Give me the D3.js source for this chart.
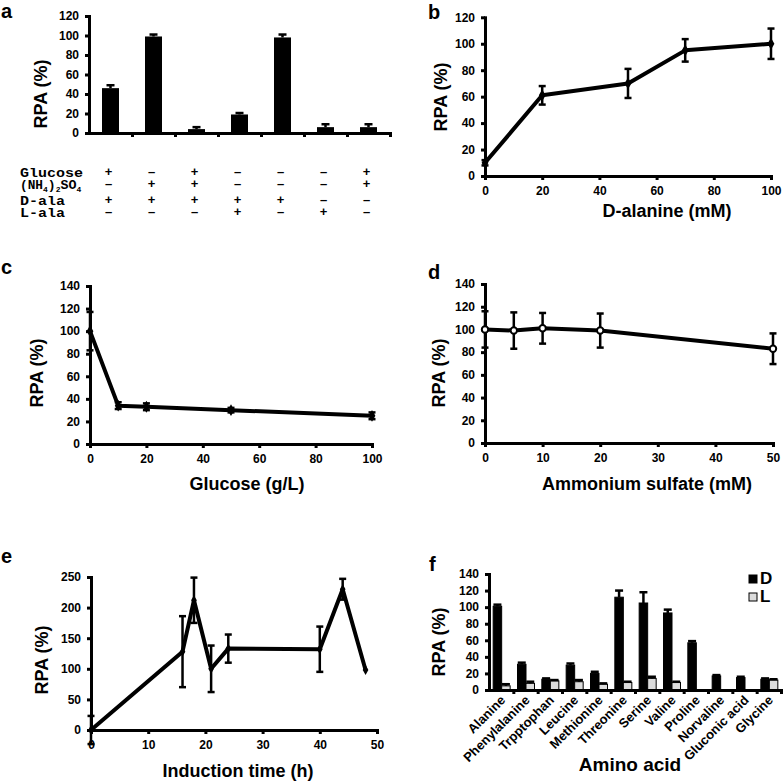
<!DOCTYPE html>
<html><head><meta charset="utf-8">
<script src="https://cdn.jsdelivr.net/npm/d3@7"></script>
<style>body{margin:0;background:#fff}</style>
</head><body><svg id="c" width="784" height="783" font-family="Liberation Sans, Arial, sans-serif"></svg>
<script>
// ---------- DATA ----------
// panel a
const aRowLabels = ["Glucose", "(NH4)2SO4", "D-ala", "L-ala"];
const aGlucose  = ["+", "-", "+", "-", "-", "-", "+"];
const aAmmonium = ["-", "+", "+", "-", "-", "-", "+"];
const aDala     = ["+", "+", "+", "+", "+", "-", "-"];
const aLala     = ["-", "-", "-", "+", "-", "+", "-"];
const aRPA = [46, 99, 4, 19, 98, 6, 6];
const aErr = [3, 2, 2, 1.5, 3, 3, 3];
const aYTicks = [0, 20, 40, 60, 80, 100, 120];
// panel b
const bConc = [0, 20, 50, 70, 100];
const bRPA  = [10, 61, 70, 95, 100];
const bErr  = [2, 7, 11, 8.5, 11.5];
const bXTicks = [0, 20, 40, 60, 80, 100];
const bYTicks = [0, 20, 40, 60, 80, 100, 120];
// panel c
const cGlucose = [0, 10, 20, 50, 100];
const cRPA = [100, 34, 33, 30, 25];
const cErr = [17, 3, 3, 2, 3];
const cXTicks = [0, 20, 40, 60, 80, 100];
const cYTicks = [0, 20, 40, 60, 80, 100, 120, 140];
// panel d
const dAmm = [0, 5, 10, 20, 50];
const dRPA = [100, 99, 101, 99, 83];
const dErr = [16, 16, 13.5, 15, 13.5];
const dXTicks = [0, 10, 20, 30, 40, 50];
const dYTicks = [0, 20, 40, 60, 80, 100, 120, 140];
// panel e
const eTime = [0, 16, 18, 21, 24, 40, 44, 48];
const eRPA  = [0, 128, 212, 100, 133, 132, 230, 98];
const eErr  = [23, 58, 37, 38, 23, 37, 17, 0];
const eXTicks = [0, 10, 20, 30, 40, 50];
const eYTicks = [0, 50, 100, 150, 200, 250];
// panel f
const fAcids = ["Alanine", "Phenylalanine", "Trpptophan", "Leucine", "Methionine", "Threonine", "Serine", "Valine", "Proline", "Norvaline", "Gluconic acid", "Glycine"];
const fD    = [101, 31, 13, 30, 20, 112, 105, 93, 57, 17, 15, 13];
const fDErr = [2, 2, 1, 2, 2, 8, 13, 4, 2, 1, 1, 1];
const fL    = [5, 8, 11, 10, 7, 9, 14, 9, 0, 0, 0, 12];
const fLErr = [2, 2, 1, 2, 1, 1, 2, 1, 0, 0, 0, 1];
const fYTicks = [0, 20, 40, 60, 80, 100, 120, 140];
const fSeries = ["D", "L"];

// ---------- DRAWING ----------
const svg = d3.select("#c");
svg.append("rect").attr("width", 784).attr("height", 783).attr("fill", "#fff");
const FONT = "Liberation Sans, Arial, sans-serif";
const TICK_FS = 12;

function styleAxis(s) {
  s.attr("font-family", FONT).attr("font-size", TICK_FS).attr("font-weight", "bold");
  s.select(".domain").attr("stroke", "#000").attr("stroke-width", 3).attr("stroke-linecap", "square");
  s.selectAll(".tick line").attr("stroke", "#000").attr("stroke-width", 3);
  s.selectAll(".tick text").attr("fill", "#000");
}
function yAxis(g, y, ticks, xPos) {
  const s = g.append("g").attr("transform", `translate(${xPos},0)`)
    .call(d3.axisLeft(y).tickValues(ticks).tickSize(4).tickSizeOuter(0).tickPadding(6));
  styleAxis(s);
}
function xAxisLinear(g, x, ticks, yPos) {
  const s = g.append("g").attr("transform", `translate(0,${yPos})`)
    .call(d3.axisBottom(x).tickValues(ticks).tickSize(4).tickSizeOuter(0).tickPadding(6));
  styleAxis(s);
}
function xAxisBand(g, n, x0, x1, yPos) {
  const xb = d3.scaleLinear().domain([0, n]).range([x0, x1]);
  const s = g.append("g").attr("transform", `translate(0,${yPos})`)
    .call(d3.axisBottom(xb).tickValues(d3.range(1, n + 1)).tickFormat("").tickSize(4).tickSizeOuter(0));
  styleAxis(s);
}
function rpaLabel(g, cx, cy) {
  g.append("text").attr("transform", `translate(${cx},${cy}) rotate(-90)`)
    .attr("text-anchor", "middle").attr("dominant-baseline", "middle")
    .attr("font-size", 18).attr("font-weight", "bold").text("RPA (%)");
}
function panelLetter(t, x, y) {
  svg.append("text").attr("x", x).attr("y", y).attr("font-size", 20).attr("font-weight", "bold").text(t);
}
function errBar(g, xv, lo, hi, cap, sw, onlyUp, base) {
  const yb = onlyUp ? base : lo;
  g.append("line").attr("x1", xv).attr("x2", xv).attr("y1", yb).attr("y2", hi).attr("stroke", "#000").attr("stroke-width", sw);
  g.append("line").attr("x1", xv - cap / 2).attr("x2", xv + cap / 2).attr("y1", hi).attr("y2", hi).attr("stroke", "#000").attr("stroke-width", sw);
  if (!onlyUp) g.append("line").attr("x1", xv - cap / 2).attr("x2", xv + cap / 2).attr("y1", lo).attr("y2", lo).attr("stroke", "#000").attr("stroke-width", sw);
}

function linePanel(o) {
  const x = d3.scaleLinear().domain(o.xDomain).range([o.x0, o.x1]);
  const y = d3.scaleLinear().domain(o.yDomain).range([o.y0, o.y1]);
  const g = svg.append("g");
  xAxisLinear(g, x, o.xTicks, y(0));
  yAxis(g, y, o.yTicks, x(0));
  o.xs.forEach((xv, i) => {
    if (o.err[i] > 0) errBar(g, x(xv), y(o.ys[i] - o.err[i]), y(o.ys[i] + o.err[i]), 7, 2.5, false);
  });
  const pts = o.xs.map((xv, i) => [xv, o.ys[i]]);
  g.append("path").datum(pts).attr("fill", "none").attr("stroke", "#000").attr("stroke-width", 4)
    .attr("stroke-linejoin", "round")
    .attr("d", d3.line().x(d => x(d[0])).y(d => y(d[1])));
  pts.forEach(d => {
    if (o.marker === "circle") {
      g.append("circle").attr("cx", x(d[0])).attr("cy", y(d[1])).attr("r", 3.2)
        .attr("fill", "#fff").attr("stroke", "#000").attr("stroke-width", 2);
    } else {
      g.append("path").attr("transform", `translate(${x(d[0])},${y(d[1])})`)
        .attr("d", d3.symbol().type(d3.symbolDiamond).size(o.msize || 40)()).attr("fill", "#000");
    }
  });
  rpaLabel(g, o.rpaX, o.rpaY);
  g.append("text").attr("x", o.titleX).attr("y", o.titleY).attr("text-anchor", "middle")
    .attr("font-size", 18).attr("font-weight", "bold").text(o.title);
}

// ---- panel a ----
(function () {
  const g = svg.append("g");
  const x = d3.scaleBand().domain(d3.range(aRPA.length)).range([89, 390]);
  const y = d3.scaleLinear().domain([0, 120]).range([133, 16]);
  const bw = 17;
  aRPA.forEach((v, i) => {
    const cx = x(i) + x.bandwidth() / 2;
    errBar(g, cx, y(v - aErr[i]), y(v + aErr[i]), 8, 2.5, true, y(v));
    g.append("rect").attr("x", cx - bw / 2).attr("y", y(v)).attr("width", bw).attr("height", y(0) - y(v)).attr("fill", "#000");
  });
  xAxisBand(g, aRPA.length, 89, 390, y(0));
  yAxis(g, y, aYTicks, 89);
  rpaLabel(g, 42, 94);
  // condition table
  const rows = [aGlucose, aAmmonium, aDala, aLala];
  const rowY = [177, 189, 205, 217];
  const widths = [63, 73, 45, 45];
  const mono = "Liberation Mono, Courier New, monospace";
  rows.forEach((r, ri) => {
    const t = g.append("text").attr("x", 20).attr("y", rowY[ri]).attr("font-family", mono)
      .attr("font-size", 13).attr("font-weight", "bold");
    if (ri === 1) {
      t.append("tspan").attr("textLength", 23).attr("lengthAdjust", "spacingAndGlyphs").text("(NH");
      t.append("tspan").attr("font-size", 8).attr("dy", 3).text("4");
      t.append("tspan").attr("dy", -3).text(")");
      t.append("tspan").attr("font-size", 8).attr("dy", 3).text("2");
      t.append("tspan").attr("dy", -3).attr("textLength", 16).attr("lengthAdjust", "spacingAndGlyphs").text("SO");
      t.append("tspan").attr("font-size", 8).attr("dy", 3).text("4");
    } else {
      t.attr("textLength", widths[ri]).attr("lengthAdjust", "spacingAndGlyphs").text(aRowLabels[ri]);
    }
    r.forEach((s, ci) => {
      g.append("text").attr("x", x(ci) + x.bandwidth() / 2 - 2).attr("y", rowY[ri] - 1)
        .attr("text-anchor", "middle").attr("font-size", 13).attr("font-weight", "bold")
        .text(s === "-" ? "\u2013" : "+");
    });
  });
})();
panelLetter("a", 1, 18);

// ---- panel b ----
linePanel({xDomain: [0, 100], yDomain: [0, 120], x0: 485, x1: 771, y0: 176, y1: 17.3,
  xTicks: bXTicks, yTicks: bYTicks, xs: bConc, ys: bRPA, err: bErr, marker: "diamond",
  rpaX: 442, rpaY: 97, title: "D-alanine (mM)", titleX: 667, titleY: 217});
panelLetter("b", 428, 19);

// ---- panel c ----
linePanel({xDomain: [0, 100], yDomain: [0, 140], x0: 90, x1: 372, y0: 444, y1: 286,
  xTicks: cXTicks, yTicks: cYTicks, xs: cGlucose, ys: cRPA, err: cErr, marker: "diamond",
  rpaX: 38, rpaY: 373, title: "Glucose (g/L)", titleX: 247, titleY: 490});
panelLetter("c", 1, 274);

// ---- panel d ----
linePanel({xDomain: [0, 50], yDomain: [0, 140], x0: 485, x1: 773, y0: 443, y1: 284,
  xTicks: dXTicks, yTicks: dYTicks, xs: dAmm, ys: dRPA, err: dErr, marker: "circle",
  rpaX: 440, rpaY: 373, title: "Ammonium sulfate (mM)", titleX: 647, titleY: 490});
panelLetter("d", 428, 279);

// ---- panel e ----
linePanel({xDomain: [0, 50], yDomain: [0, 250], x0: 91, x1: 377, y0: 730, y1: 577,
  xTicks: eXTicks, yTicks: eYTicks, xs: eTime, ys: eRPA, err: eErr, marker: "diamond", msize: 28,
  rpaX: 43, rpaY: 660, title: "Induction time (h)", titleX: 238, titleY: 777});
panelLetter("e", 1, 563);

// ---- panel f ----
(function () {
  const g = svg.append("g");
  const x0 = 489, x1 = 781;
  const x = d3.scaleBand().domain(fAcids).range([x0, x1]);
  const xs = d3.scaleBand().domain(fSeries).range([0, 17]);
  const y = d3.scaleLinear().domain([0, 140]).range([690, 574]);
  const vals = {D: fD, L: fL}, errs = {D: fDErr, L: fLErr};
  const fill = {D: "#000", L: "#dcdcdc"};
  fAcids.forEach((a, i) => {
    const off = x(a) + x.bandwidth() / 2 - 8;
    fSeries.forEach(s => {
      const v = vals[s][i];
      if (v <= 0) return;
      const bx = off + xs(s);
      g.append("rect").attr("x", bx).attr("y", y(v)).attr("width", xs.bandwidth()).attr("height", y(0) - y(v))
        .attr("fill", fill[s]).attr("stroke", "#000").attr("stroke-width", 1);
      errBar(g, bx + xs.bandwidth() / 2, y(v - errs[s][i]), y(v + errs[s][i]), 8, 2.5, true, y(v));
    });
    g.append("text").attr("transform", `translate(${x(a) + x.bandwidth() / 2 + 5},${y(0) + 11}) rotate(-45)`)
      .attr("text-anchor", "end").attr("font-size", 13).attr("font-weight", "bold").text(a);
  });
  xAxisBand(g, fAcids.length, x0, x1, y(0));
  yAxis(g, y, fYTicks, x0);
  rpaLabel(g, 440, 642);
  g.append("text").attr("x", 630).attr("y", 771).attr("text-anchor", "middle")
    .attr("font-size", 19).attr("font-weight", "bold").text("Amino acid");
  // legend
  fSeries.forEach((s, i) => {
    const ly = 575 + i * 18;
    g.append("rect").attr("x", 749).attr("y", ly).attr("width", 8).attr("height", 8)
      .attr("fill", fill[s]).attr("stroke", "#000").attr("stroke-width", 1);
    g.append("text").attr("x", 760).attr("y", ly + 9).attr("font-size", 17).attr("font-weight", "bold").text(s);
  });
})();
panelLetter("f", 429, 571);
</script></body></html>
